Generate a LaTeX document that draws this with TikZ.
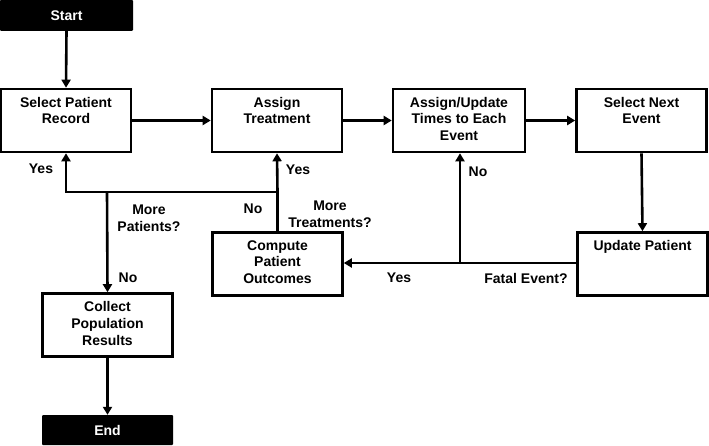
\documentclass[tikz,border=0pt]{standalone}
\usepackage{fontspec}
\setmainfont{Liberation Sans}
\usetikzlibrary{arrows.meta,calc}
\newcommand{\bxt}[1]{\parbox[c][59pt][t]{126pt}{\centering\vspace*{6pt}#1\par}}
\tikzset{
  every node/.style={font=\bfseries\fontsize{14}{16.7}\selectfont},
  procbox/.style={draw, line width=2.6pt, inner sep=2pt, minimum width=130pt, minimum height=63pt},
  termbox/.style={fill=black, text=white, minimum width=131pt, minimum height=30pt, inner sep=0pt, rounded corners=1pt},
  conn/.style={line width=2.6pt},
  arr/.style={conn, -{Triangle[length=8pt,width=9pt]}},
  lbl/.style={inner sep=0pt, align=center},
}
\begin{document}
\begin{tikzpicture}[x=1pt,y=-1pt]
\useasboundingbox (0,0) rectangle (709,446);
\node[termbox, minimum width=133pt, minimum height=31pt] (start) at (66.5,15.5) {Start};
\node[procbox, minimum width=128pt] (select) at (66,120.5) {\bxt{Select Patient\\Record}};
\node[procbox] (assignT) at (277,120.5) {\bxt{Assign\\Treatment}};
\node[procbox, minimum width=132pt] (assignU) at (459,120.5) {\bxt{Assign/Update\\Times to Each\\Event}};
\node[procbox] (selnext) at (641.5,120.5) {\bxt{Select Next\\Event}};
\node[procbox] (update) at (642.5,264) {\bxt{Update Patient}};
\node[procbox] (compute) at (277.5,264) {\bxt{Compute\\Patient\\Outcomes}};
\node[procbox] (collect) at (107.5,325) {\bxt{Collect\\Population\\Results}};
\node[termbox] (end) at (107.5,430) {End};

\coordinate (j1) at (460,263);
\coordinate (j2) at (277.5,192);
\coordinate (j3) at (107,192);

\draw[arr] (start.south) -- (select.north);
\draw[arr] (select.east) -- (assignT.west);
\draw[arr] (assignT.east) -- (assignU.west);
\draw[arr] (assignU.east) -- (selnext.west);
\draw[arr] (selnext.south) -- (update.north);
\draw[arr] (update.west |- j1) -- (compute.east |- j1);
\draw[arr] (j1) -- (j1 |- assignU.south);
\draw[conn] (compute.north) -- (j2);
\draw[arr] (j2) -- (assignT.south);
\draw[arr] (j2) -| (select.south);
\draw[arr] (j3) -- (collect.north);
\draw[arr] (collect.south) -- (end.north);

\node[lbl] (lno1) at (478,172) {No};
\node[lbl] (lyes1) at (399,278) {Yes};
\node[lbl] (lfatal) at (526,278) {Fatal Event?};
\node[lbl] (lyes2) at (41,169) {Yes};
\node[lbl] (lyes3) at (298,170) {Yes};
\node[lbl] (lno2) at (253,209) {No};
\node[lbl] (lmt) at (330,214.5) {More\\Treatments?};
\node[lbl] (lmp) at (149,218) {More\\Patients?};
\node[lbl] (lno3) at (128,278) {No};
\end{tikzpicture}
\end{document}
